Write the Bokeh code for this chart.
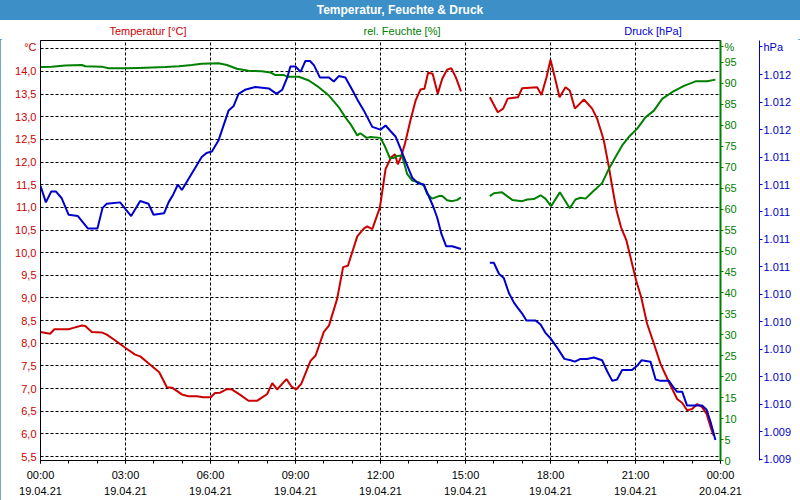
from bokeh.plotting import figure
from bokeh.layouts import column
from bokeh.models import Range1d, LinearAxis, FixedTicker, CustomJSTickFormatter, Div
from bokeh.embed import file_html
from bokeh.resources import INLINE

NAN = float("nan")

# ---------------- data (hours since 19.04.21 00:00) ----------------
temp_hours = [0.0, 0.34, 0.49, 0.99, 1.16, 1.46, 1.58, 1.81, 2.16, 2.34, 2.64, 2.99, 3.34, 3.52, 3.81,
              4.19, 4.46, 4.64, 4.99, 5.22, 5.52, 5.75, 6.01, 6.16, 6.34, 6.58, 6.75, 7.05, 7.34, 7.64,
              7.93, 8.0, 8.18, 8.35, 8.68, 8.85, 9.02, 9.2, 9.53, 9.71, 10.0, 10.18, 10.47, 10.68, 10.85,
              11.18, 11.41, 11.53, 11.71, 11.98, 12.18, 12.38, 12.51, 12.61, 12.71, 12.86, 13.06, 13.24,
              13.41, 13.55, 13.68, 13.84, 14.02, 14.18, 14.35, 14.5, 14.66, 14.84,
              15.3,
              15.86, 16.14, 16.33, 16.49, 16.85, 17.0, 17.53, 17.68, 17.86, 18.0, 18.18, 18.32, 18.53,
              18.68, 18.86, 19.18, 19.47, 19.65, 19.88, 20.06, 20.18, 20.33, 20.49, 20.68, 20.85, 21.02,
              21.2, 21.41, 21.65, 21.88, 22.18, 22.47, 22.65, 22.82, 23.0, 23.18, 23.35, 23.51, 23.65, 23.76]
temp_values = [8.25, 8.21, 8.31, 8.31, 8.34, 8.39, 8.38, 8.25, 8.24, 8.19, 8.06, 7.90, 7.75, 7.71, 7.56,
               7.36, 7.03, 7.02, 6.87, 6.83, 6.83, 6.81, 6.81, 6.90, 6.91, 6.99, 6.98, 6.86, 6.73, 6.73,
               6.85, 6.88, 7.12, 6.98, 7.21, 7.05, 6.98, 7.10, 7.61, 7.73, 8.25, 8.39, 8.98, 9.68, 9.71,
               10.36, 10.53, 10.58, 10.52, 11.0, 11.85, 12.11, 12.17, 11.95, 12.09, 12.40, 12.93, 13.36,
               13.60, 13.62, 13.97, 13.95, 13.51, 13.84, 14.04, 14.07, 13.87, 13.56,
               NAN,
               13.43, 13.10, 13.18, 13.40, 13.43, 13.63, 13.65, 13.48, 13.87, 14.26, 13.80, 13.43, 13.65,
               13.58, 13.18, 13.38, 13.18, 12.95, 12.48, 11.89, 11.45, 10.93, 10.56, 10.27, 9.83, 9.39,
               9.02, 8.43, 7.99, 7.55, 7.14, 6.77, 6.68, 6.52, 6.55, 6.66, 6.59, 6.44, 6.15, 5.96]

hum_hours = [0.0, 0.4, 0.87, 1.46, 1.58, 2.16, 2.4, 2.99, 3.46, 4.4, 4.89, 5.34, 5.69, 6.28, 6.58, 6.93,
             7.34, 7.81, 8.12, 8.29, 8.59, 8.71, 9.12, 9.47, 9.82, 10.18, 10.53, 10.76, 10.94, 11.18,
             11.29, 11.51, 11.65, 12.0, 12.14, 12.33, 12.47, 12.59, 12.76, 12.94, 13.12, 13.35, 13.53,
             13.65, 13.82, 14.06, 14.18, 14.35, 14.53, 14.71, 14.84,
             15.3,
             15.86, 16.0, 16.29, 16.65, 17.0, 17.18, 17.41, 17.65, 17.82, 18.02, 18.33, 18.68, 18.88,
             19.06, 19.24, 19.47, 19.82, 20.06, 20.29, 20.53, 20.76, 21.06, 21.35, 21.65, 21.94, 22.29,
             22.71, 23.12, 23.53, 23.82]
hum_values = [93.9, 94.0, 94.3, 94.4, 94.1, 94.0, 93.6, 93.6, 93.7, 93.9, 94.1, 94.4, 94.7, 94.8, 94.4, 93.5,
              93.0, 92.9, 92.6, 92.0, 92.0, 91.6, 91.6, 90.7, 89.1, 87.1, 84.3, 81.9, 80.3, 77.6,
              78.1, 77.0, 77.2, 77.0, 75.2, 72.2, 72.2, 72.7, 72.8, 68.4, 66.8, 66.4, 65.6,
              63.6, 62.5, 63.1, 63.1, 62.1, 61.9, 62.2, 62.8,
              NAN,
              63.1, 63.8, 64.0, 62.2, 61.9, 62.3, 62.4, 63.3, 62.5, 60.7, 64.0, 60.2, 62.3,
              62.7, 62.5, 64.0, 66.2, 69.6, 72.4, 75.2, 77.2, 79.2, 81.9, 83.5, 86.3, 87.9,
              89.4, 90.5, 90.5, 90.9]

press_hours = [0.0, 0.19, 0.38, 0.54, 0.75, 0.99, 1.32, 1.67, 2.01, 2.19, 2.34, 2.81, 3.2, 3.52, 3.81,
               3.99, 4.36, 4.52, 4.69, 4.85, 4.99, 5.34, 5.69, 5.86, 6.05, 6.28, 6.64, 6.81, 6.99, 7.22,
               7.58, 8.06, 8.33, 8.53, 8.71, 8.82, 9.0, 9.18, 9.35, 9.51, 9.65, 9.86, 10.0, 10.18, 10.35,
               10.53, 10.76, 11.0, 11.18, 11.41, 11.71, 12.0, 12.18, 12.35, 12.53, 12.71, 12.94, 13.12,
               13.32, 13.53, 13.65, 13.86, 14.0, 14.15, 14.32, 14.53, 14.84,
               15.3,
               15.86, 16.0, 16.18, 16.35, 16.53, 16.71, 16.85, 17.0, 17.15, 17.47, 17.65, 17.82, 18.0,
               18.24, 18.49, 18.71, 18.86, 19.06, 19.29, 19.53, 19.82, 20.0, 20.18, 20.35, 20.53, 20.88,
               21.06, 21.21, 21.53, 21.71, 21.88, 22.18, 22.35, 22.47, 22.65, 22.82, 23.12, 23.35, 23.51,
               23.65, 23.82]
press_values = [1011.19, 1011.07, 1011.15, 1011.15, 1011.10, 1010.98, 1010.97, 1010.88, 1010.88, 1011.03,
                1011.06, 1011.07, 1010.97, 1011.08, 1011.06, 1010.98, 1010.99, 1011.07, 1011.13, 1011.20,
                1011.16, 1011.28, 1011.40, 1011.43, 1011.44, 1011.52, 1011.74, 1011.77, 1011.86, 1011.89,
                1011.91, 1011.90, 1011.86, 1011.89, 1011.98, 1012.06, 1012.06, 1012.02, 1012.10, 1012.10,
                1012.07, 1011.98, 1011.98, 1011.98, 1011.95, 1011.99, 1011.98, 1011.89, 1011.82, 1011.74,
                1011.62, 1011.60, 1011.63, 1011.59, 1011.55, 1011.46, 1011.34, 1011.25, 1011.21, 1011.20,
                1011.14, 1011.04, 1010.96, 1010.84, 1010.75, 1010.75, 1010.73,
                NAN,
                1010.63, 1010.63, 1010.55, 1010.52, 1010.41, 1010.34, 1010.30, 1010.26, 1010.21, 1010.21,
                1010.18, 1010.12, 1010.08, 1010.01, 1009.93, 1009.92, 1009.91, 1009.93, 1009.93, 1009.94,
                1009.92, 1009.84, 1009.77, 1009.78, 1009.85, 1009.85, 1009.88, 1009.92, 1009.91, 1009.78,
                1009.77, 1009.77, 1009.72, 1009.69, 1009.69, 1009.59, 1009.59, 1009.59, 1009.56, 1009.47,
                1009.34]

# ---------------- ticks / labels ----------------
x_ticks = [0, 3, 6, 9, 12, 15, 18, 21, 24]
x_tick_labels = ["00:00\n19.04.21", "03:00\n19.04.21", "06:00\n19.04.21", "09:00\n19.04.21",
                 "12:00\n19.04.21", "15:00\n19.04.21", "18:00\n19.04.21", "21:00\n19.04.21",
                 "00:00\n20.04.21"]
x_minor_ticks = list(range(25))
x_grid_ticks = [3, 6, 9, 12, 15, 18, 21]

temp_ticks = [5.5, 6.0, 6.5, 7.0, 7.5, 8.0, 8.5, 9.0, 9.5, 10.0, 10.5, 11.0, 11.5, 12.0, 12.5, 13.0, 13.5, 14.0]
temp_tick_labels = ["5,5", "6,0", "6,5", "7,0", "7,5", "8,0", "8,5", "9,0", "9,5", "10,0", "10,5", "11,0",
                    "11,5", "12,0", "12,5", "13,0", "13,5", "14,0"]
temp_grid_ticks = temp_ticks + [14.5]

hum_ticks = [0, 5, 10, 15, 20, 25, 30, 35, 40, 45, 50, 55, 60, 65, 70, 75, 80, 85, 90, 95]
hum_tick_labels = ["0", "5", "10", "15", "20", "25", "30", "35", "40", "45", "50", "55", "60", "65",
                   "70", "75", "80", "85", "90", "95"]

press_ticks = [1009.2, 1009.4, 1009.6, 1009.8, 1010.0, 1010.2, 1010.4, 1010.6, 1010.8, 1011.0,
               1011.2, 1011.4, 1011.6, 1011.8, 1012.0]
press_tick_labels = ["1.009", "1.009", "1.010", "1.010", "1.010", "1.010", "1.010", "1.011", "1.011",
                     "1.011", "1.011", "1.011", "1.012", "1.012", "1.012"]

title_text = "Temperatur, Feuchte & Druck"
series_names = ["Temperatur [°C]", "rel. Feuchte [%]", "Druck [hPa]"]
unit_names = ["°C", "%", "hPa"]

# ---------------- styles ----------------
RED = "#cc0000"
GREEN = "#008000"
BLUE = "#0000cc"
FRAME_BLUE = "#3d8fc7"
FONT = "Liberation Sans"
FS = "11px"

W = 800
TITLE_H = 20
LEGEND_H = 19
FIG_H = 500 - TITLE_H - LEGEND_H      # 461
FRAME_TOP_PX = TITLE_H + LEGEND_H + 1  # 40 on the page
FRAME_BOTTOM_PX = 460

T0, T1 = 5.412, 14.683
HUM0, HUM1 = 0.0, 100.24
P0, P1 = 1009.19, 1012.249

def data_at_px(py, lo, hi):
    """value of an axis range at page pixel row py (for the unit-label ticks)"""
    return hi - (py - FRAME_TOP_PX) * (hi - lo) / (FRAME_BOTTOM_PX - FRAME_TOP_PX)

UNIT_ROW = 46

p = figure(width=W, height=FIG_H, output_backend="svg", toolbar_location=None,
           x_range=Range1d(0, 24), y_range=Range1d(T0, T1),
           min_border_left=40, min_border_right=80, min_border_top=1, min_border_bottom=40,
           background_fill_color="white", border_fill_color="white", margin=0)
p.outline_line_color = "black"
p.outline_line_width = 1
p.extra_y_ranges = {"hum": Range1d(HUM0, HUM1), "press": Range1d(P0, P1)}

fmt_code = """
let best = 0, bd = Infinity;
for (let i = 0; i < tv.length; i++) {
  const d = Math.abs(tv[i] - tick);
  if (d < bd) { bd = d; best = i; }
}
return tl[best];
"""

def fmt(tick_values, tick_labels):
    return CustomJSTickFormatter(args=dict(tv=tick_values, tl=tick_labels), code=fmt_code)

# bottom axis
xa = p.xaxis[0]
xa.ticker = FixedTicker(ticks=x_ticks, minor_ticks=x_minor_ticks)
xa.formatter = fmt(x_ticks, x_tick_labels)
xa.axis_line_color = "black"
xa.major_tick_line_color = "black"
xa.minor_tick_line_color = "black"
xa.major_tick_out = 3
xa.major_tick_in = 0
xa.minor_tick_out = 3
xa.minor_tick_in = 0
xa.major_label_standoff = 5
xa.major_label_text_font = FONT
xa.major_label_text_font_size = FS
xa.major_label_text_color = "black"
xa.major_label_text_line_height = 1.35

# left axis (temperature) + unit label "°C" as an extra top tick
t_unit = data_at_px(UNIT_ROW, T0, T1)
ya = p.yaxis[0]
ya.ticker = FixedTicker(ticks=temp_ticks + [t_unit])
ya.formatter = fmt(temp_ticks + [t_unit], temp_tick_labels + [unit_names[0]])
ya.axis_line_color = "black"
ya.major_tick_line_color = None
ya.minor_tick_line_color = None
ya.major_tick_out = 0
ya.major_tick_in = 0
ya.major_label_standoff = 4
ya.major_label_text_font = FONT
ya.major_label_text_font_size = FS
ya.major_label_text_color = RED

# grids
p.xgrid[0].ticker = FixedTicker(ticks=x_grid_ticks)
p.ygrid[0].ticker = FixedTicker(ticks=temp_grid_ticks)
for g in (p.xgrid[0], p.ygrid[0]):
    g.grid_line_color = "black"
    g.grid_line_dash = "3 2"
    g.grid_line_width = 1
    g.grid_line_alpha = 1.0

# humidity axis + "%"
h_unit = data_at_px(UNIT_ROW, HUM0, HUM1)
hum_axis = LinearAxis(y_range_name="hum", ticker=FixedTicker(ticks=hum_ticks + [h_unit]),
                      formatter=fmt(hum_ticks + [h_unit], hum_tick_labels + [unit_names[1]]))
hum_axis.axis_line_color = GREEN
hum_axis.axis_line_width = 2
hum_axis.major_tick_line_color = GREEN
hum_axis.minor_tick_line_color = None
hum_axis.major_tick_out = 3
hum_axis.major_tick_in = 0
hum_axis.major_label_standoff = 1
hum_axis.major_label_text_font = FONT
hum_axis.major_label_text_font_size = FS
hum_axis.major_label_text_color = GREEN
hum_axis.axis_label = " "
hum_axis.axis_label_standoff = 5
hum_axis.axis_label_text_font_size = "11px"
p.add_layout(hum_axis, "right")

# pressure axis + "hPa"
p_unit = data_at_px(UNIT_ROW, P0, P1)
press_axis = LinearAxis(y_range_name="press", ticker=FixedTicker(ticks=press_ticks + [p_unit]),
                        formatter=fmt(press_ticks + [p_unit], press_tick_labels + [unit_names[2]]))
press_axis.axis_line_color = BLUE
press_axis.major_tick_line_color = BLUE
press_axis.minor_tick_line_color = None
press_axis.major_tick_out = 3
press_axis.major_tick_in = 0
press_axis.major_label_standoff = 1
press_axis.major_label_text_font = FONT
press_axis.major_label_text_font_size = FS
press_axis.major_label_text_color = BLUE
p.add_layout(press_axis, "right")

# series
p.line(temp_hours, temp_values, line_color=RED, line_width=2)
p.line(hum_hours, hum_values, line_color=GREEN, line_width=2, y_range_name="hum")
p.line(press_hours, press_values, line_color=BLUE, line_width=2, y_range_name="press")

# title bar
title_div = Div(text=title_text, render_as_text=True, width=W, height=TITLE_H, margin=0,
                styles={"background-color": FRAME_BLUE, "color": "white", "font-family": FONT,
                        "font-weight": "bold", "font-size": "12px", "text-align": "center",
                        "line-height": f"{TITLE_H}px", "overflow": "hidden"})

# series name row
legend_x = [148, 402, 653]
legend_colors = [RED, GREEN, BLUE]
spans = "".join(
    f'<span style="position:absolute;left:{x}px;top:5px;transform:translateX(-50%);'
    f'white-space:nowrap;color:{c};line-height:12px;">{name}</span>'
    for x, c, name in zip(legend_x, legend_colors, series_names))
legend_div = Div(text=f'<div style="position:relative;width:{W}px;height:{LEGEND_H}px;">{spans}</div>',
                 width=W, height=LEGEND_H, margin=0,
                 styles={"font-family": FONT, "font-size": FS, "background-color": "white"})

layout = column(title_div, legend_div, p, spacing=0, margin=0,
                styles={"outline": f"2px solid {FRAME_BLUE}", "outline-offset": "-2px"})

open("out.html", "w").write(file_html(layout, INLINE))
